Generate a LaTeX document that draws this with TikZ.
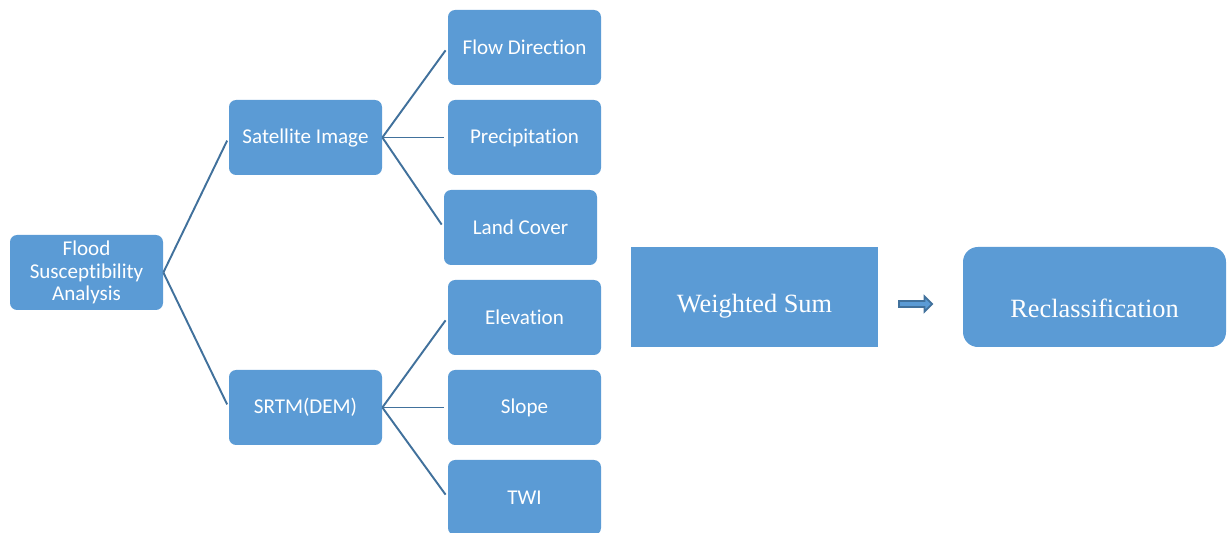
\documentclass[tikz,border=0pt]{standalone}
\usepackage{fontspec}
\setmainfont[Ligatures=CommonOff]{Carlito}
\newfontfamily\timesfont{Liberation Serif}
\usetikzlibrary{shapes.arrows}
\definecolor{boxblue}{HTML}{5B9BD5}
\definecolor{lineblue}{HTML}{41719C}
\tikzset{
  item/.style={fill=boxblue,text=white,rounded corners=4pt,minimum width=153*0.02cm,
    minimum height=75*0.02cm,align=center,font=\fontsize{12}{13}\selectfont,inner sep=2pt},
  bigbox/.style={fill=boxblue,text=white,minimum width=247*0.02cm,minimum height=100*0.02cm,
    font=\timesfont\fontsize{15}{17}\selectfont},
  link/.style={draw=lineblue,line width=1.1pt,shorten >=2pt}
}
\begin{document}
\begin{tikzpicture}[x=0.02cm,y=-0.02cm]
\useasboundingbox (0,0) rectangle (1231,533);
\node[item] (flood) at (86.5,272.5) {Flood\\Susceptibility\\Analysis};
\node[item] (sat) at (305.5,137.5) {Satellite Image};
\node[item] (srtm) at (305.5,407.5) {SRTM(DEM)};
\node[item] (flow) at (524.5,47.5) {Flow Direction};
\node[item] (prec) at (524.5,137.5) {Precipitation};
\node[item] (land) at (520.5,227.5) {Land Cover};
\node[item] (elev) at (524.5,317.5) {Elevation};
\node[item] (slope) at (524.5,407.5) {Slope};
\node[item] (twi) at (524.5,497.5) {TWI};
\node[bigbox,text height=21pt] (wsum) at (754.5,297) {Weighted Sum};
\node[bigbox,minimum width=263*0.02cm,rounded corners=8.5pt,text height=24pt] (recl) at (1094.5,297) {Reclassification};
\node[single arrow,fill=boxblue,draw=lineblue,line width=1pt,minimum height=33*0.02cm,
  minimum width=15*0.02cm,single arrow head extend=2.5pt,inner sep=1.2pt] (arr) at (914,304) {};

\draw[link] (flood.east) -- (sat.west);
\draw[link] (flood.east) -- (srtm.west);
\foreach \t in {flow,prec,land}
  \draw[link] (sat.east) -- (\t.west);
\foreach \t in {elev,slope,twi}
  \draw[link] (srtm.east) -- (\t.west);
\end{tikzpicture}
\end{document}
